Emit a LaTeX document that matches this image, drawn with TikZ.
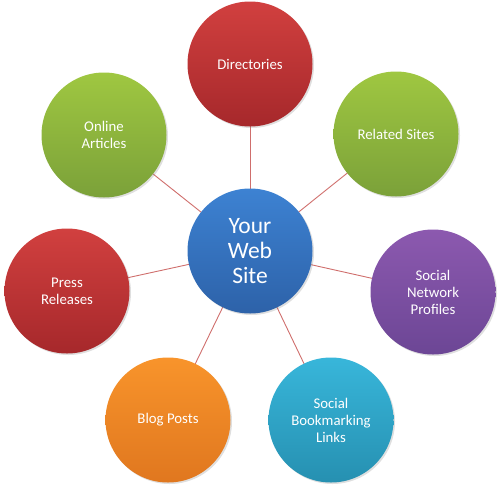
\documentclass[tikz,border=0pt]{standalone}
\usepackage{fontspec}
\setmainfont{Carlito}
\usetikzlibrary{shadows}
\definecolor{redT}{HTML}{D1403F}
\definecolor{redB}{HTML}{A6282B}
\definecolor{grnT}{HTML}{9FC741}
\definecolor{grnB}{HTML}{7BA139}
\definecolor{bluT}{HTML}{3D82D2}
\definecolor{bluB}{HTML}{2D62A9}
\definecolor{purT}{HTML}{8C59AF}
\definecolor{purB}{HTML}{6C4695}
\definecolor{orgT}{HTML}{F8942B}
\definecolor{orgB}{HTML}{E0771F}
\definecolor{tealT}{HTML}{38B6DA}
\definecolor{tealB}{HTML}{2690B1}
\definecolor{linkc}{HTML}{CF6E6C}
\tikzset{
  bubble/.style={circle, minimum size=125pt, inner sep=0pt, text=white,
    font=\fontsize{14.8}{17}\selectfont, align=center,
    drop shadow={opacity=0.25, shadow xshift=1.5pt, shadow yshift=-1.5pt}},
  redb/.style={bubble, top color=redT, bottom color=redB},
  grnb/.style={bubble, top color=grnT, bottom color=grnB},
  blub/.style={bubble, top color=bluT, bottom color=bluB, font=\fontsize{23.5}{25}\selectfont},
  purb/.style={bubble, top color=purT, bottom color=purB},
  orgb/.style={bubble, top color=orgT, bottom color=orgB},
  tealb/.style={bubble, top color=tealT, bottom color=tealB},
  link/.style={draw=linkc, line width=0.9pt}
}
\begin{document}
\begin{tikzpicture}[x=1pt, y=-1pt]
\useasboundingbox (0,0) rectangle (500,490);
\coordinate (pc) at (250,251);
\coordinate (pdir) at (250,64);
\coordinate (pon) at (104,135);
\coordinate (prel) at (396,134);
\coordinate (ppr) at (67,291);
\coordinate (psn) at (433,292);
\coordinate (pbl) at (168,420);
\coordinate (psb) at (331,420);
\foreach \p in {pdir,pon,prel,ppr,psn,pbl,psb} \draw[link] (pc) -- (\p);
\node[redb] (dir) at (pdir) {Directories};
\node[grnb] (on) at (pon) {Online\\Articles};
\node[grnb] (rel) at (prel) {Related Sites};
\node[redb] (pr) at (ppr) {Press\\Releases};
\node[purb] (sn) at (psn) {Social\\Network\\Profiles};
\node[orgb] (bl) at (pbl) {Blog Posts};
\node[tealb] (sb) at (psb) {Social\\Bookmarking\\Links};
\node[blub] (c) at (pc) {Your\\Web\\Site};
\end{tikzpicture}
\end{document}
